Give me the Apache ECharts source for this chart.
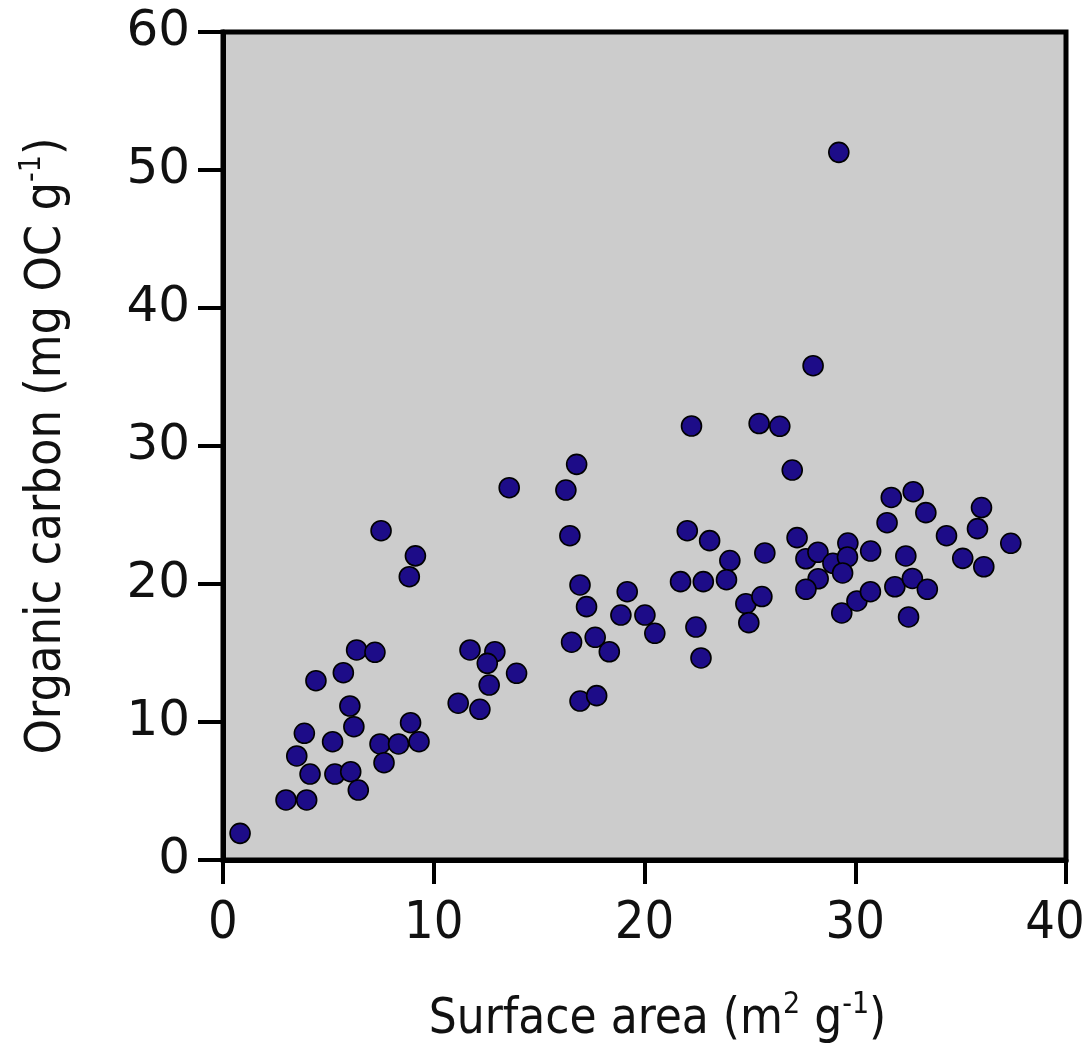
<!DOCTYPE html>
<html>
<head>
<meta charset="utf-8">
<script src="https://cdn.jsdelivr.net/npm/echarts@6/dist/echarts.min.js"></script>
<style>html,body{margin:0;padding:0;background:#fff;overflow:hidden}#c{width:1091px;height:1044px}</style>
</head>
<body>
<div id="c"></div>
<script>
// Surface area (m2 g-1)
const surfaceArea = [
  0.81, 2.99, 3.97, 3.50, 4.13, 3.86, 5.20, 4.41, 5.71, 6.34,
  7.21, 6.02, 6.21, 5.31, 6.06, 6.42, 7.45, 8.33, 7.64, 8.90,
  9.30, 11.72, 12.90, 12.54, 12.63, 11.16, 12.19, 13.93, 22.23, 16.78,
  13.58, 16.27, 16.46, 22.03, 9.13, 8.84, 16.94, 17.25, 19.18, 18.88,
  20.02, 20.49, 21.71, 16.54, 17.66, 18.33, 16.94, 17.73, 22.44, 22.68,
  29.22, 28.00, 25.44, 26.42, 27.01, 31.71, 32.75, 33.35, 31.51, 35.99,
  35.80, 34.33, 37.38, 35.10, 36.10, 23.09, 24.05, 25.71, 22.79, 23.89,
  24.81, 25.57, 24.95, 27.24, 27.66, 28.23, 28.94, 29.65, 29.63, 29.40,
  30.73, 28.24, 27.66, 29.36, 30.08, 30.72, 31.88, 32.40, 32.71, 33.42,
  32.53, 7.50
];
// Organic carbon (mg OC g-1)
const organicCarbon = [
  1.93, 4.35, 4.35, 7.54, 6.23, 9.18, 8.57, 12.99, 13.57, 15.22,
  15.05, 11.16, 9.66, 6.23, 6.40, 5.07, 8.41, 8.41, 7.05, 9.95,
  8.57, 15.22, 15.09, 14.25, 12.68, 11.36, 10.92, 13.53, 31.45, 28.67,
  26.98, 26.81, 23.50, 23.86, 22.04, 20.53, 19.93, 18.36, 19.44, 17.75,
  17.75, 16.43, 20.17, 15.78, 16.14, 15.09, 11.52, 11.91, 16.88, 14.64,
  51.28, 35.82, 31.63, 31.43, 28.26, 26.27, 26.69, 25.17, 24.44, 25.54,
  24.01, 23.50, 22.95, 21.86, 21.25, 23.14, 21.70, 22.25, 20.17, 20.31,
  18.57, 19.09, 17.20, 23.36, 21.83, 22.30, 21.50, 22.97, 21.96, 20.80,
  22.39, 20.38, 19.62, 17.90, 18.77, 19.44, 19.80, 22.03, 20.40, 19.62,
  17.61, 23.86
];
const xTicks = [0, 10, 20, 30, 40];
const yTicks = [0, 10, 20, 30, 40, 50, 60];

const points = surfaceArea.map((x, i) => [x, organicCarbon[i]]);
const narrow = '"Liberation Sans Narrow","DejaVu Sans Condensed","Open Sans",sans-serif';
const supStyle = { fontFamily: narrow, fontSize: 30, color: '#111', verticalAlign: 'top', lineHeight: 40 };
const xMax = xTicks[xTicks.length - 1];

const chart = echarts.init(document.getElementById('c'), null, { renderer: 'canvas', width: 1091, height: 1044 });
chart.setOption({
  animation: false,
  backgroundColor: '#ffffff',
  grid: {
    left: 223, right: 25, top: 32, bottom: 184,
    outerBoundsMode: 'none', containLabel: false,
    show: true, backgroundColor: '#cccccc', borderColor: '#000', borderWidth: 5
  },
  xAxis: {
    type: 'value', min: xTicks[0], max: xMax, interval: 10,
    splitLine: { show: false },
    axisLine: { show: true, onZero: false, lineStyle: { color: '#000', width: 5 } },
    axisTick: { show: true, inside: false, length: 24, lineStyle: { color: '#000', width: 4 } },
    axisLabel: {
      margin: 38, fontFamily: narrow, fontSize: 52, color: '#111',
      formatter: v => v === xMax ? '{e|' + v + '}' : String(v),
      rich: { e: { fontFamily: narrow, fontSize: 52, color: '#111', padding: [0, 22, 0, 0] } }
    },
    name: '{t|Surface area (m}{s|2}{t| g}{s|-1}{t|)}',
    nameLocation: 'middle', nameGap: 130,
    nameTextStyle: {
      padding: [0, 0, 0, 26],
      rich: {
        t: { fontFamily: narrow, fontSize: 49, color: '#111', lineHeight: 60 },
        s: Object.assign({}, supStyle)
      }
    }
  },
  yAxis: {
    type: 'value', min: yTicks[0], max: yTicks[yTicks.length - 1], interval: 10,
    splitLine: { show: false },
    axisLine: { show: true, onZero: false, lineStyle: { color: '#000', width: 5 } },
    axisTick: { show: true, inside: false, length: 25, lineStyle: { color: '#000', width: 4 } },
    axisLabel: { margin: 33, fontFamily: '"DejaVu Sans",sans-serif', fontSize: 50, color: '#111' },
    name: '{t|Organic carbon (mg OC g}{s|-1}{t|)}',
    nameLocation: 'middle', nameGap: 146, nameRotate: 90,
    nameTextStyle: {
      rich: {
        t: { fontFamily: narrow, fontSize: 50, color: '#111', lineHeight: 60 },
        s: Object.assign({}, supStyle)
      }
    }
  },
  series: [{
    type: 'scatter',
    data: points,
    symbol: 'circle',
    symbolSize: 20,
    itemStyle: { color: '#1d0c88', borderColor: '#000', borderWidth: 1.6, opacity: 1 }
  }]
});
</script>
</body>
</html>
